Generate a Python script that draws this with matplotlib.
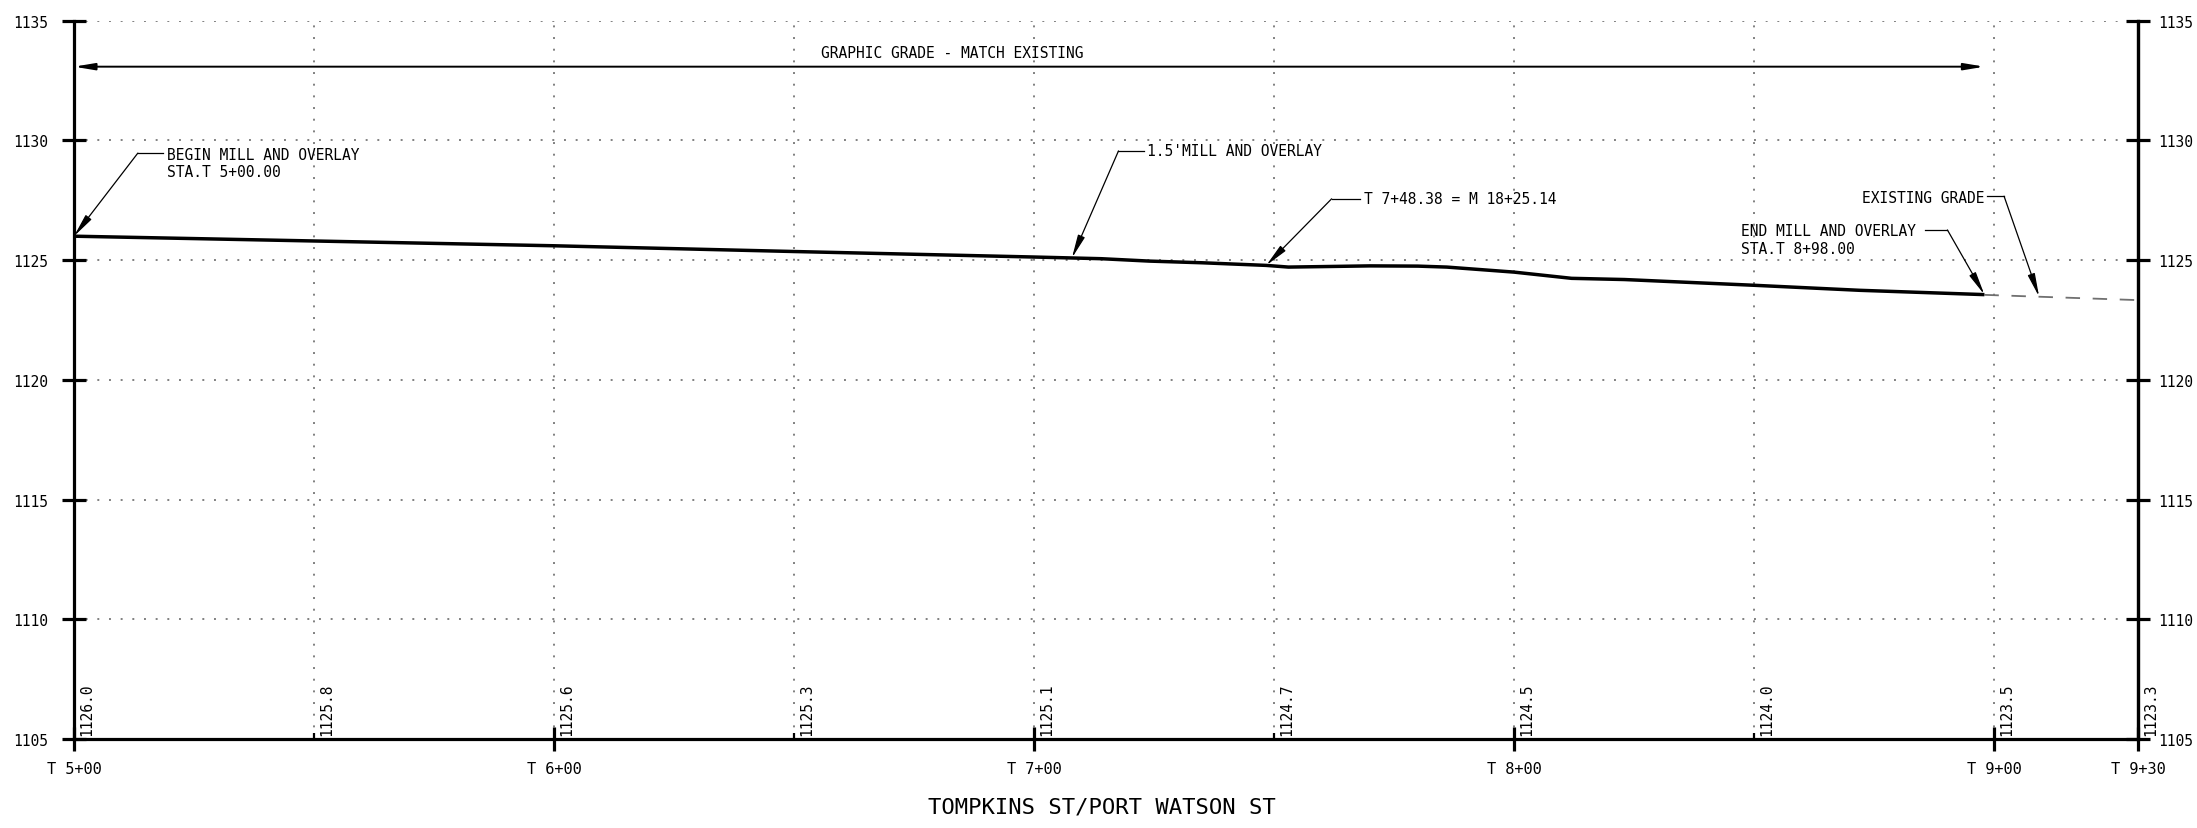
import numpy as np
import matplotlib
matplotlib.use("Agg")
import matplotlib.pyplot as plt

# ---------------- data ----------------
profile_sta = [500, 550, 600, 650, 700, 714, 724, 735, 748.4, 753, 760, 770, 780, 786,
               800, 812, 823, 850, 872, 898]
profile_elev = [1126.0, 1125.8, 1125.6, 1125.36, 1125.13, 1125.06, 1124.96, 1124.89,
                1124.78, 1124.71, 1124.73, 1124.76, 1124.75, 1124.71, 1124.50, 1124.24,
                1124.19, 1123.95, 1123.74, 1123.56]
existing_sta = [898, 930]
existing_elev = [1123.55, 1123.33]

label_sta = [500, 550, 600, 650, 700, 750, 800, 850, 900, 930]
label_elev = ["1126.0", "1125.8", "1125.6", "1125.3", "1125.1", "1124.7", "1124.5",
              "1124.0", "1123.5", "1123.3"]

major_sta = [500, 600, 700, 800, 900, 930]
major_labels = ["T 5+00", "T 6+00", "T 7+00", "T 8+00", "T 9+00", "T 9+30"]
minor_sta = [550, 650, 750, 850]
elev_ticks = [1105, 1110, 1115, 1120, 1125, 1130, 1135]

title = "TOMPKINS ST/PORT WATSON ST"

# ---------------- style ----------------
FONT = ["DejaVu Sans Mono", "DejaVu Sans"]
plt.rcParams["font.family"] = FONT
GRAY = "#808080"
ANN = 10.5

fig = plt.figure(figsize=(21.97, 8.29), dpi=100)
ax = fig.add_axes([0.03368, 0.10736, 0.93946, 0.86646])
ax.set_xlim(500, 930)
ax.set_ylim(1105, 1135)

ax.spines["top"].set_visible(False)
for side in ["left", "bottom", "right"]:
    ax.spines[side].set_linewidth(2.3)

ax.set_axisbelow(True)
ax.set_xticks(major_sta)
ax.set_xticklabels(major_labels)
ax.set_xticks(minor_sta, minor=True)
ax.set_yticks(elev_ticks)
ax.set_yticklabels([str(v) for v in elev_ticks])
ax.tick_params(axis="x", which="major", direction="inout", length=17, width=2.3,
               pad=7, labelsize=11)
ax.tick_params(axis="x", which="minor", direction="in", length=4, width=1.6)
ax.tick_params(axis="y", which="major", direction="inout", length=17, width=2.3,
               pad=10, labelsize=10.5, left=True, right=False)

ax.grid(True, axis="x", which="both", color=GRAY, lw=1.4, linestyle=(0, (1, 5)))
ax.grid(True, axis="y", which="major", color=GRAY, lw=1.4, linestyle=(0, (1, 5)))

ax2 = ax.twinx()
ax2.set_ylim(1105, 1135)
ax2.set_yticks(elev_ticks)
ax2.set_yticklabels([str(v) for v in elev_ticks])
for side in ["top", "left", "bottom"]:
    ax2.spines[side].set_visible(False)
ax2.spines["right"].set_linewidth(2.3)
ax2.tick_params(axis="y", direction="inout", length=17, width=2.3, pad=6, labelsize=10.5)

# profile lines
ax.plot(profile_sta, profile_elev, color="black", lw=2.5, solid_capstyle="butt", zorder=5)
ax.plot(existing_sta, existing_elev, color="#707070", lw=1.3,
        linestyle=(0, (8, 7)), zorder=4)

# elevation labels at bottom
for s, t in zip(label_sta, label_elev):
    ax.annotate(t, xy=(s, 1105), xytext=(4, 3), textcoords="offset points",
                rotation=90, ha="left", va="bottom", fontsize=10.5, annotation_clip=False)

# graphic grade arrow
ax.annotate("", xy=(500, 1133.08), xytext=(898, 1133.08),
            arrowprops=dict(arrowstyle="<|-|>,head_length=1.2,head_width=0.2",
                            color="black", lw=1.4, shrinkA=0, shrinkB=0, mutation_scale=10))
ax.text(683, 1133.69, "GRAPHIC GRADE - MATCH EXISTING", ha="center", va="center",
        fontsize=ANN)

ARW = dict(arrowstyle="-|>,head_length=1.4,head_width=0.22", color="black", lw=0.9,
           shrinkA=0, shrinkB=0, mutation_scale=10)


def leader(tip, elbow, end_x):
    ax.plot([elbow[0], end_x], [elbow[1], elbow[1]], color="black", lw=0.9, zorder=6)
    ax.annotate("", xy=tip, xytext=elbow, arrowprops=ARW, zorder=6)


def prof_at(s):
    return float(np.interp(s, profile_sta, profile_elev))


def exist_at(s):
    return float(np.interp(s, existing_sta, existing_elev))


# BEGIN MILL AND OVERLAY
leader((500, prof_at(500)), (513.3, 1129.47), 518.6)
ax.text(519.4, 1129.05, "BEGIN MILL AND OVERLAY\nSTA.T 5+00.00", ha="left", va="center",
        fontsize=ANN, linespacing=1.2)

# 1.5" MILL AND OVERLAY
leader((707.9, prof_at(707.9)), (717.6, 1129.56), 722.9)
ax.text(723.6, 1129.56, "1.5'MILL AND OVERLAY", ha="left", va="center", fontsize=ANN)

# T 7+48.38 = M 18+25.14
leader((748.38, prof_at(748.38)), (762.0, 1127.56), 768.0)
ax.text(768.7, 1127.56, "T 7+48.38 = M 18+25.14", ha="left", va="center", fontsize=ANN)

# END MILL AND OVERLAY
leader((898, prof_at(898)), (890.3, 1126.26), 885.6)
ax.text(847.2, 1125.87, "END MILL AND OVERLAY\nSTA.T 8+98.00", ha="left", va="center",
        fontsize=ANN, linespacing=1.2)

# EXISTING GRADE
leader((909.4, exist_at(909.4)), (902.1, 1127.67), 898.5)
ax.text(898.1, 1127.62, "EXISTING GRADE", ha="right", va="center", fontsize=ANN)

fig.text(0.5017, 0.026, title, ha="center", va="center", fontsize=16)

fig.savefig("out.png", dpi=100)
